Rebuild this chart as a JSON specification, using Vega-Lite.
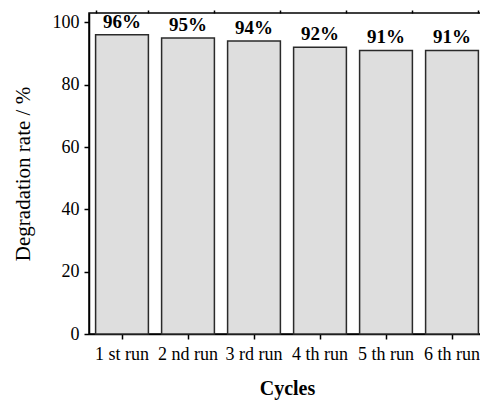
{
  "$schema": "https://vega.github.io/schema/vega-lite/v6.json",
  "autosize": "none",
  "padding": {"left": 89, "top": 13, "right": 0, "bottom": 66},
  "width": 396,
  "height": 321,
  "background": "white",
  "config": {
    "view": {"stroke": "black", "strokeWidth": 1.5},
    "font": "Liberation Serif",
    "axis": {
      "domainColor": "black", "domainWidth": 1.5, "tickColor": "black", "tickWidth": 1.5,
      "labelFont": "Liberation Serif", "titleFont": "Liberation Serif",
      "labelColor": "black", "titleColor": "black", "grid": false
    }
  },
  "data": {
    "values": [
      {"cycle": "1 st run", "rate": 96, "label": "96%"},
      {"cycle": "2 nd run", "rate": 95, "label": "95%"},
      {"cycle": "3 rd run", "rate": 94, "label": "94%"},
      {"cycle": "4 th run", "rate": 92, "label": "92%"},
      {"cycle": "5 th run", "rate": 91, "label": "91%"},
      {"cycle": "6 th run", "rate": 91, "label": "91%"}
    ]
  },
  "layer": [
    {
      "mark": {"type": "bar", "fill": "#dedede", "stroke": "#2a2a2a", "strokeWidth": 1.5},
      "encoding": {
        "x": {
          "field": "cycle", "type": "nominal", "sort": null,
          "scale": {"paddingInner": 0.2, "paddingOuter": 0.1},
          "axis": {"title": "Cycles", "titleFontSize": 20, "titleFontWeight": "bold", "titlePadding": 15,
                   "labelFontSize": 18, "labelAngle": 0, "tickSize": 5, "labelPadding": 6}
        },
        "y": {
          "field": "rate", "type": "quantitative",
          "scale": {"domain": [0, 103], "nice": false},
          "axis": {"title": "Degradation rate / %", "titleFontSize": 21, "titleFontWeight": "normal",
                   "values": [0, 20, 40, 60, 80, 100], "labelFontSize": 18, "tickSize": 5,
                   "labelPadding": 5, "titlePadding": 19}
        }
      }
    },
    {
      "mark": {"type": "text", "fontWeight": "bold", "fontSize": 19, "dy": -13, "color": "black"},
      "encoding": {
        "x": {"field": "cycle", "type": "nominal", "sort": null,
              "axis": {"tickBand": "extent", "labels": false, "title": null, "domain": false, "tickSize": 3}},
        "y": {"field": "rate", "type": "quantitative",
              "axis": {"values": [10, 30, 50, 70, 90], "labels": false, "title": null, "domain": false, "tickSize": 3}},
        "text": {"field": "label"}
      }
    }
  ],
  "resolve": {"axis": {"x": "independent", "y": "independent"}}
}
